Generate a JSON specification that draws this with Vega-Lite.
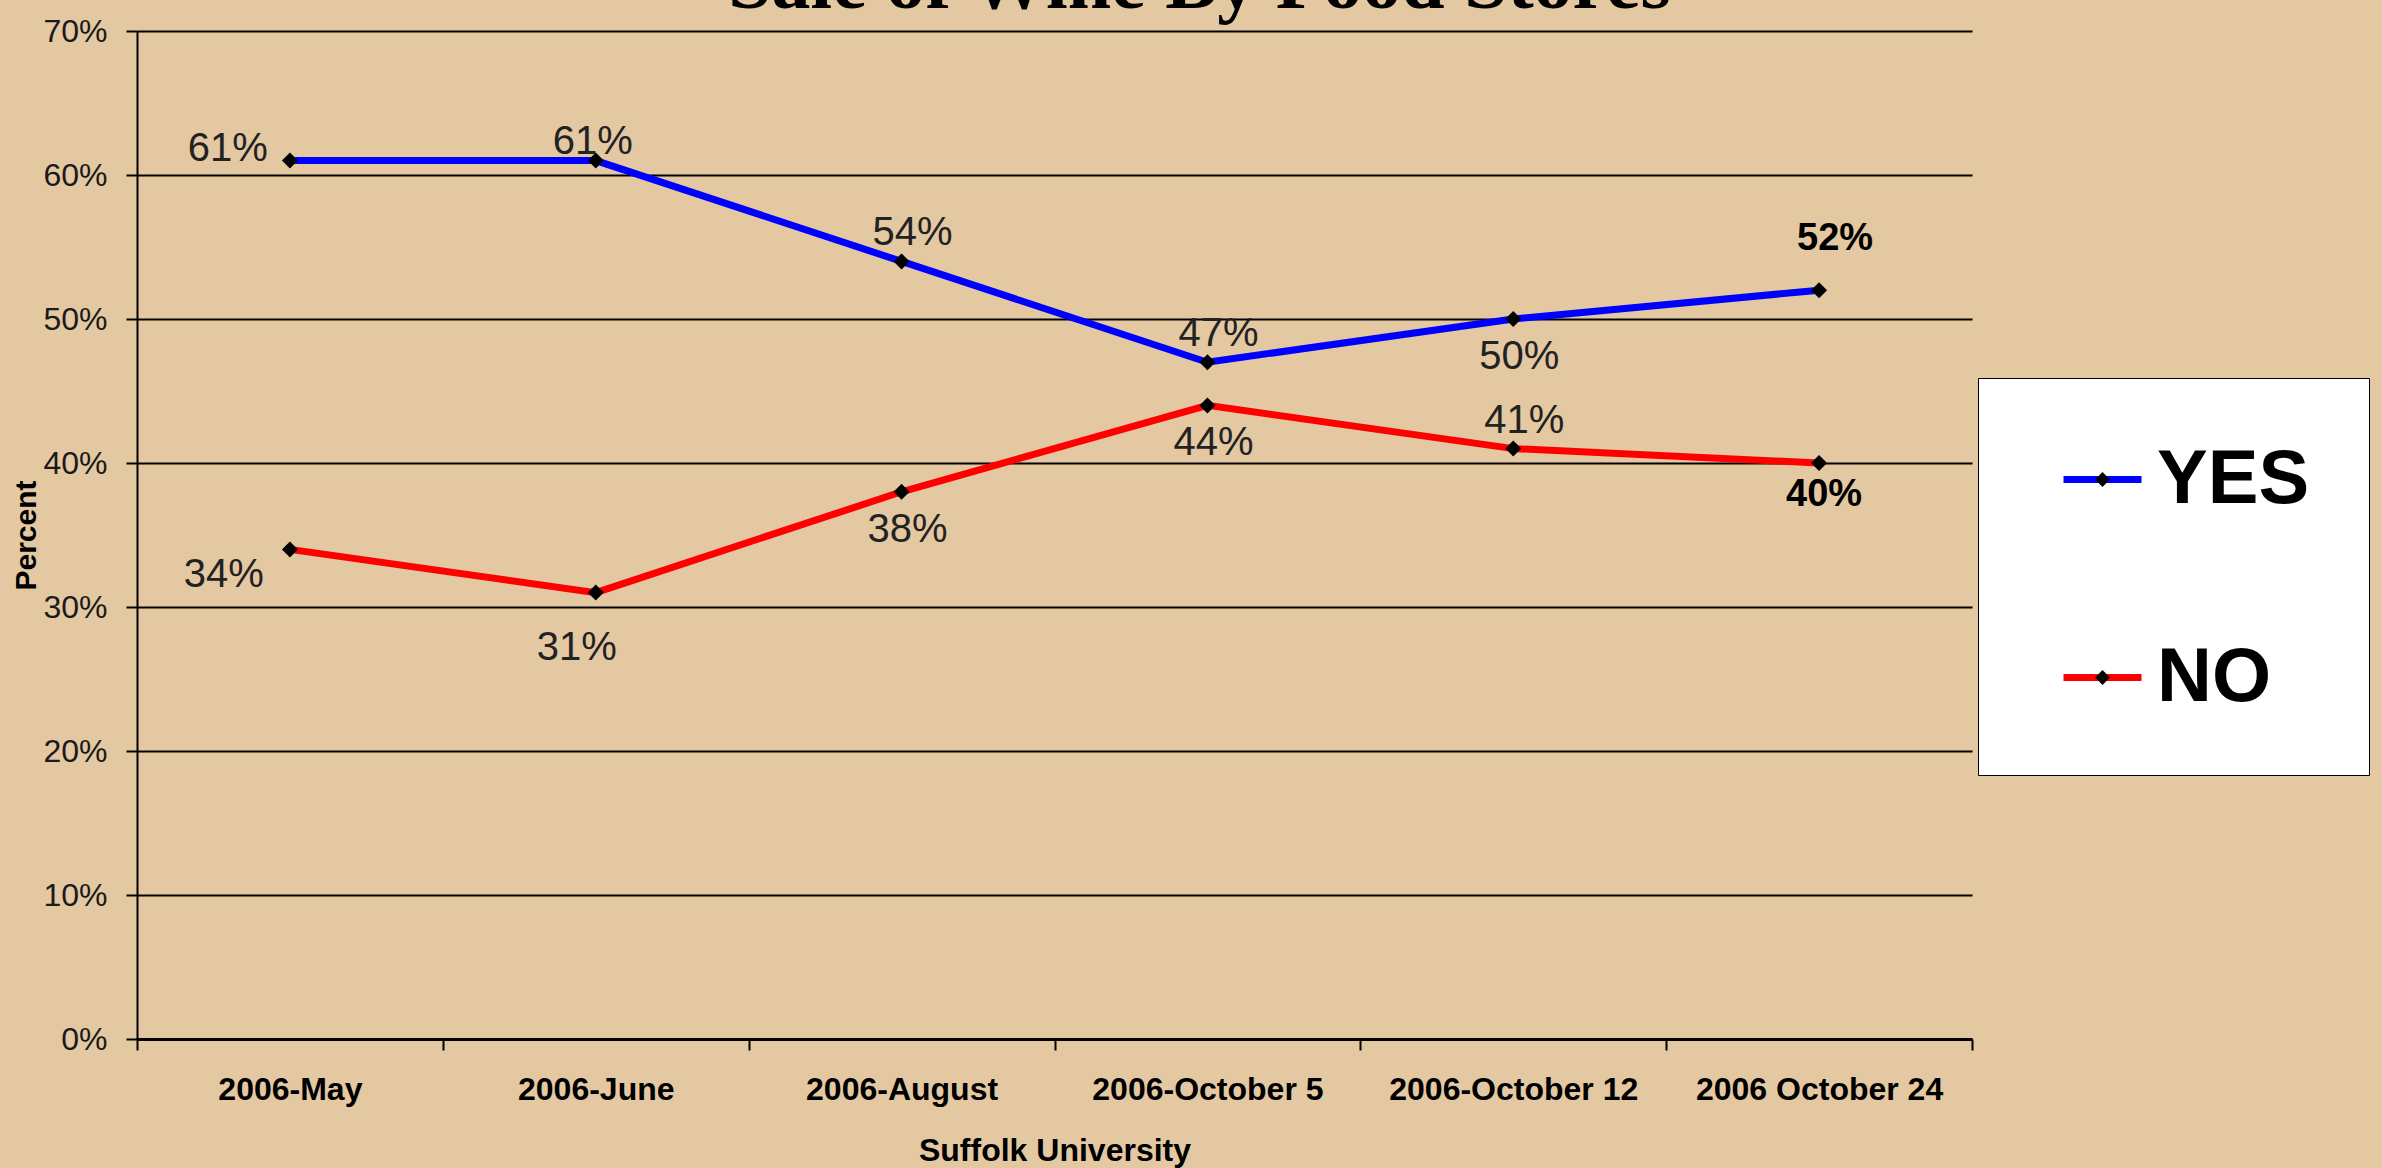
{
  "$schema": "https://vega.github.io/schema/vega-lite/v6.json",
  "width": 1835,
  "height": 1008,
  "autosize": {"type": "none"},
  "padding": {"left": 137, "top": 31, "right": 410, "bottom": 129},
  "background": "#E4C8A2",
  "title": {
    "text": "Sale of Wine By Food Stores",
    "font": "Liberation Serif",
    "fontSize": 78,
    "fontWeight": "bold",
    "color": "#000000",
    "anchor": "middle",
    "dx": 145,
    "dy": 71,
    "offset": 0,
    "baseline": "alphabetic"
  },
  "config": {"view": {"stroke": null}},
  "data": {
    "values": [
      {"date": "2006-May", "series": "YES", "value": 0.61},
      {"date": "2006-June", "series": "YES", "value": 0.61},
      {"date": "2006-August", "series": "YES", "value": 0.54},
      {"date": "2006-October 5", "series": "YES", "value": 0.47},
      {"date": "2006-October 12", "series": "YES", "value": 0.50},
      {"date": "2006 October 24", "series": "YES", "value": 0.52},
      {"date": "2006-May", "series": "NO", "value": 0.34},
      {"date": "2006-June", "series": "NO", "value": 0.31},
      {"date": "2006-August", "series": "NO", "value": 0.38},
      {"date": "2006-October 5", "series": "NO", "value": 0.44},
      {"date": "2006-October 12", "series": "NO", "value": 0.41},
      {"date": "2006 October 24", "series": "NO", "value": 0.40}
    ]
  },
  "encoding": {
    "x": {
      "field": "date",
      "type": "nominal",
      "sort": ["2006-May", "2006-June", "2006-August", "2006-October 5", "2006-October 12", "2006 October 24"],
      "scale": {"type": "band", "paddingInner": 0, "paddingOuter": 0},
      "axis": {
        "labelAngle": 0,
        "labelLimit": 0,
        "tickBand": "extent",
        "grid": false,
        "domainColor": "#000000",
        "domainWidth": 3,
        "tickColor": "#000000",
        "tickSize": 11,
        "tickWidth": 2,
        "labelFont": "Liberation Sans",
        "labelFontWeight": "bold",
        "labelFontSize": 32,
        "labelColor": "#000000",
        "labelPadding": 24,
        "title": "Suffolk University",
        "titleFont": "Liberation Sans",
        "titleFontWeight": "bold",
        "titleFontSize": 32,
        "titleColor": "#000000",
        "titlePadding": 30
      }
    },
    "y": {
      "field": "value",
      "type": "quantitative",
      "scale": {"domain": [0, 0.7], "nice": false},
      "axis": {
        "values": [0, 0.1, 0.2, 0.3, 0.4, 0.5, 0.6, 0.7],
        "format": ".0%",
        "domainColor": "#000000",
        "domainWidth": 2,
        "tickColor": "#000000",
        "tickSize": 11,
        "tickWidth": 2,
        "grid": true,
        "gridColor": "#000000",
        "gridWidth": 2,
        "gridOpacity": 1,
        "labelFont": "Liberation Sans",
        "labelFontSize": 32,
        "labelColor": "#1a1a1a",
        "labelPadding": 19,
        "title": "Percent",
        "titleFont": "Liberation Sans",
        "titleFontWeight": "bold",
        "titleFontSize": 30,
        "titleColor": "#000000",
        "titlePadding": 1
      }
    }
  },
  "layer": [
    {
      "mark": {"type": "line", "strokeWidth": 7},
      "encoding": {
        "color": {
          "field": "series",
          "type": "nominal",
          "scale": {"domain": ["YES", "NO"], "range": ["#0000FF", "#FF0000"]},
          "legend": {
            "title": null,
            "orient": "none",
            "legendX": 1841,
            "legendY": 347,
            "direction": "vertical",
            "fillColor": "#FFFFFF",
            "strokeColor": "#000000",
            "padding": 59,
            "symbolType": "stroke",
            "symbolSize": 6084,
            "symbolStrokeWidth": 7,
            "symbolOffset": 23,
            "rowPadding": 117,
            "labelFont": "Liberation Sans",
            "labelFontSize": 76,
            "labelFontWeight": "bold",
            "labelColor": "#000000",
            "labelOffset": 12,
            "labelLimit": 0
          }
        }
      }
    },
    {
      "mark": {"type": "point", "shape": "diamond", "filled": true, "size": 256, "opacity": 1},
      "encoding": {
        "fill": {
          "field": "series",
          "type": "nominal",
          "sort": ["YES", "NO"],
          "scale": {"range": ["#000000", "#000000"]},
          "legend": {
            "title": null,
            "orient": "none",
            "legendX": 1841,
            "legendY": 347,
            "direction": "vertical",
            "padding": 59,
            "symbolType": "M-0.19,0L0,-0.19L0.19,0L0,0.19Z",
            "symbolSize": 6084,
            "symbolStrokeWidth": 7,
            "symbolStrokeColor": "transparent",
            "symbolOffset": 23,
            "rowPadding": 117,
            "labelFont": "Liberation Sans",
            "labelFontSize": 76,
            "labelFontWeight": "bold",
            "labelOpacity": 0,
            "labelOffset": 12,
            "labelLimit": 0
          }
        }
      }
    },
    {
      "transform": [{"filter": {"and": [{"field": "series", "equal": "YES"}, {"field": "date", "equal": "2006-May"}]}}],
      "mark": {"type": "text", "font": "Liberation Sans", "fontSize": 40, "color": "#222222", "align": "right", "dx": -22, "dy": -12},
      "encoding": {"text": {"field": "value", "type": "quantitative", "format": ".0%"}}
    },
    {
      "transform": [{"filter": {"and": [{"field": "series", "equal": "NO"}, {"field": "date", "equal": "2006-May"}]}}],
      "mark": {"type": "text", "font": "Liberation Sans", "fontSize": 40, "color": "#222222", "align": "right", "dx": -26, "dy": 26},
      "encoding": {"text": {"field": "value", "type": "quantitative", "format": ".0%"}}
    },
    {
      "transform": [{"filter": {"and": [{"field": "series", "equal": "YES"}, {"field": "date", "equal": "2006-June"}]}}],
      "mark": {"type": "text", "font": "Liberation Sans", "fontSize": 40, "color": "#222222", "align": "center", "dx": -3, "dy": -19},
      "encoding": {"text": {"field": "value", "type": "quantitative", "format": ".0%"}}
    },
    {
      "transform": [{"filter": {"or": [
        {"and": [{"field": "series", "equal": "YES"}, {"field": "date", "oneOf": ["2006-August", "2006-October 5"]}]},
        {"and": [{"field": "series", "equal": "NO"}, {"field": "date", "equal": "2006-October 12"}]}
      ]}}],
      "mark": {"type": "text", "font": "Liberation Sans", "fontSize": 40, "color": "#222222", "align": "center", "dx": 11, "dy": -28},
      "encoding": {"text": {"field": "value", "type": "quantitative", "format": ".0%"}}
    },
    {
      "transform": [{"filter": {"or": [
        {"and": [{"field": "series", "equal": "YES"}, {"field": "date", "equal": "2006-October 12"}]},
        {"and": [{"field": "series", "equal": "NO"}, {"field": "date", "oneOf": ["2006-August", "2006-October 5"]}]}
      ]}}],
      "mark": {"type": "text", "font": "Liberation Sans", "fontSize": 40, "color": "#222222", "align": "center", "dx": 6, "dy": 38},
      "encoding": {"text": {"field": "value", "type": "quantitative", "format": ".0%"}}
    },
    {
      "transform": [{"filter": {"and": [{"field": "series", "equal": "NO"}, {"field": "date", "equal": "2006-June"}]}}],
      "mark": {"type": "text", "font": "Liberation Sans", "fontSize": 40, "color": "#222222", "align": "center", "dx": -19, "dy": 55},
      "encoding": {"text": {"field": "value", "type": "quantitative", "format": ".0%"}}
    },
    {
      "transform": [{"filter": {"and": [{"field": "series", "equal": "YES"}, {"field": "date", "equal": "2006 October 24"}]}}],
      "mark": {"type": "text", "font": "Liberation Sans", "fontSize": 38, "fontWeight": "bold", "color": "#000000", "align": "center", "dx": 16, "dy": -51},
      "encoding": {"text": {"field": "value", "type": "quantitative", "format": ".0%"}}
    },
    {
      "transform": [{"filter": {"and": [{"field": "series", "equal": "NO"}, {"field": "date", "equal": "2006 October 24"}]}}],
      "mark": {"type": "text", "font": "Liberation Sans", "fontSize": 38, "fontWeight": "bold", "color": "#000000", "align": "center", "dx": 5, "dy": 32},
      "encoding": {"text": {"field": "value", "type": "quantitative", "format": ".0%"}}
    }
  ]
}
